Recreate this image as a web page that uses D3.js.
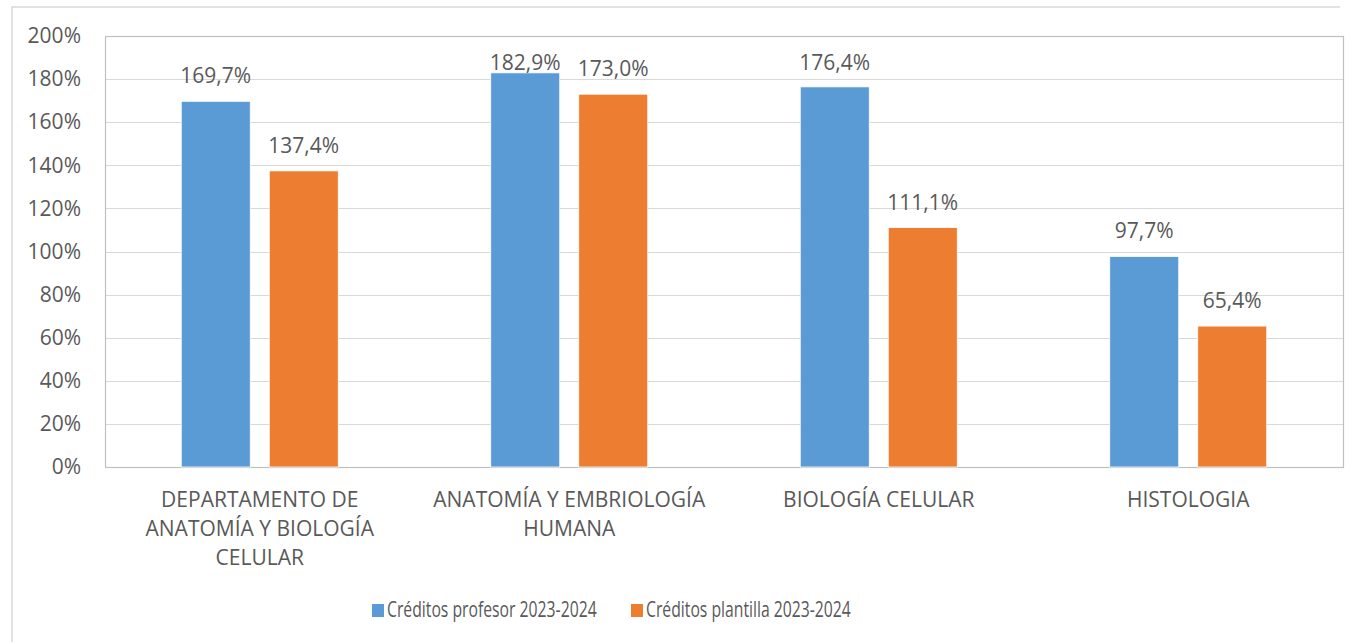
<!DOCTYPE html>
<html>
<head>
<meta charset="utf-8">
<script src="https://cdn.jsdelivr.net/npm/d3@7"></script>
<style>
  body { margin: 0; background: #fff; }
  text { font-family: "Open Sans", sans-serif; fill: #595959; }
</style>
</head>
<body>
<script>
// chart data
var categories = [
    ["DEPARTAMENTO DE", "ANATOMÍA Y BIOLOGÍA", "CELULAR"],
    ["ANATOMÍA Y EMBRIOLOGÍA", "HUMANA"],
    ["BIOLOGÍA CELULAR"],
    ["HISTOLOGIA"]
];
var seriesNames = ["Créditos profesor 2023-2024", "Créditos plantilla 2023-2024"];
var profesor = [169.7, 182.9, 176.4, 97.7];
var plantilla = [137.4, 173.0, 111.1, 65.4];
var yTicks = [0, 20, 40, 60, 80, 100, 120, 140, 160, 180, 200];
var colors = ["#5B9BD5", "#ED7D31"];

var dim = {
    width: 1350, height: 642,
    font: 21,
    plot: { left: 105, right: 1343, top: 36, bottom: 467 }
};

var catKeys = categories.map(function(c, i) { return i; });
var series = [profesor, plantilla];

var p = 0.4927;
var x0 = d3.scaleBand()
        .domain(catKeys)
        .range([dim.plot.left, dim.plot.right])
        .paddingInner(p)
        .paddingOuter(p / 2);

var x1 = d3.scaleBand()
        .domain([0, 1])
        .range([0, x0.bandwidth()])
        .paddingInner(0.216)
        .paddingOuter(0);

var y = d3.scaleLinear()
        .domain([0, 200])
        .range([dim.plot.bottom, dim.plot.top]);

var svg = d3.select("body").append("svg")
        .attr("width", dim.width)
        .attr("height", dim.height);

// chart area border (cut off at right/bottom)
svg.append("path")
        .attr("d", "M12,642 L12,7 L1340,7")
        .attr("fill", "none")
        .attr("stroke", "#d9d9d9")
        .attr("stroke-width", 1.5);

// gridlines
svg.append("g")
        .attr("class", "grid")
        .selectAll("line").data(yTicks).enter()
        .append("line")
        .attr("x1", dim.plot.left)
        .attr("x2", dim.plot.right)
        .attr("y1", function(d) { return Math.round(y(d)) + 0.5; })
        .attr("y2", function(d) { return Math.round(y(d)) + 0.5; })
        .attr("stroke", "#d9d9d9")
        .attr("stroke-width", 1);

// plot area border
svg.append("rect")
        .attr("x", dim.plot.left + 0.5)
        .attr("y", dim.plot.top + 0.5)
        .attr("width", dim.plot.right - dim.plot.left)
        .attr("height", dim.plot.bottom - dim.plot.top)
        .attr("fill", "none")
        .attr("stroke", "#bfbfbf")
        .attr("stroke-width", 1.2);

// y axis
var yAxis = d3.axisLeft(y)
        .tickValues(yTicks)
        .tickSize(0)
        .tickPadding(24)
        .tickFormat(function(d) { return d + "%"; });

var yG = svg.append("g")
        .attr("transform", "translate(" + dim.plot.left + ",0)")
        .call(yAxis);
yG.select(".domain").remove();
yG.selectAll("text")
        .attr("font-family", "Open Sans, sans-serif")
        .attr("font-size", dim.font)
        .style("fill", "#595959");

// bars
var groups = svg.append("g").attr("class", "bars")
        .selectAll("g").data(catKeys).enter()
        .append("g")
        .attr("transform", function(d) { return "translate(" + x0(d) + ",0)"; });

groups.selectAll("rect")
        .data(function(c) { return series.map(function(s, i) { return { s: i, v: s[c] }; }); })
        .enter()
        .append("rect")
        .attr("x", function(d) { return x1(d.s); })
        .attr("y", function(d) { return y(d.v); })
        .attr("width", x1.bandwidth())
        .attr("height", function(d) { return y(0) - y(d.v); })
        .attr("fill", function(d) { return colors[d.s]; })
        .attr("stroke", "#fff")
        .attr("stroke-width", 0.8);

// data labels, pushed down when too close to the top
var fmt = d3.format(".1f");
groups.selectAll("text.label")
        .data(function(c) { return series.map(function(s, i) { return { s: i, v: s[c] }; }); })
        .enter()
        .append("text")
        .attr("class", "label")
        .attr("x", function(d) { return x1(d.s) + x1.bandwidth() / 2; })
        .attr("y", function(d) { return Math.max(y(d.v) - 18, dim.plot.top + 34); })
        .attr("text-anchor", "middle")
        .attr("font-size", dim.font)
        .text(function(d) { return fmt(d.v).replace(".", ",") + "%"; });

// category labels
var catG = svg.append("g").attr("class", "categories")
        .selectAll("text").data(catKeys).enter()
        .append("text")
        .attr("text-anchor", "middle")
        .attr("font-size", dim.font)
        .attr("x", function(d) { return x0(d) + x0.bandwidth() / 2; })
        .attr("y", 507);

catG.selectAll("tspan")
        .data(function(d) { return categories[d]; })
        .enter()
        .append("tspan")
        .attr("x", function() { var c = d3.select(this.parentNode).datum(); return x0(c) + x0.bandwidth() / 2; })
        .attr("dy", function(d, i) { return i === 0 ? 0 : 29; })
        .text(function(d) { return d; });

// legend (text squeezed a bit, the original face is narrower)
var legendItems = [
    { x: 372, name: seriesNames[0], color: colors[0] },
    { x: 631, name: seriesNames[1], color: colors[1] }
];
var legend = svg.append("g").attr("class", "legend")
        .selectAll("g").data(legendItems).enter()
        .append("g")
        .attr("transform", function(d) { return "translate(" + d.x + ",604)"; });

legend.append("rect")
        .attr("width", 12)
        .attr("height", 13)
        .attr("fill", function(d) { return d.color; });

legend.append("text")
        .attr("transform", "translate(15,13) scale(0.75,1)")
        .attr("font-size", dim.font)
        .text(function(d) { return d.name; });
</script>
</body>
</html>
